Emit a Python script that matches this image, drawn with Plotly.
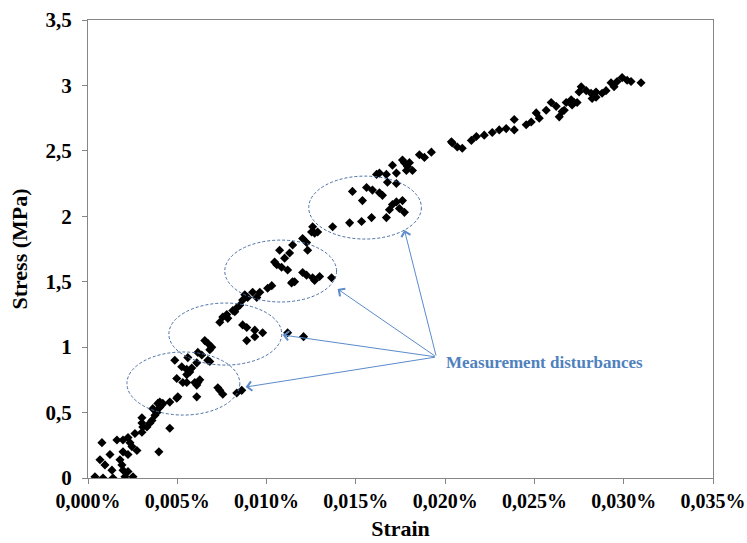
import plotly.graph_objects as go

strain_pct = [
    0.00039, 0.00084, 0.00140, 0.00207, 0.00252, 0.00067, 0.00123, 0.00078, 0.00095, 0.00134,
    0.00179, 0.00190, 0.00196, 0.00224, 0.00224, 0.00196, 0.00162, 0.00196, 0.00235, 0.00246,
    0.00274, 0.00224, 0.00263, 0.00302, 0.00307, 0.00302, 0.00330, 0.00347, 0.00358, 0.00375,
    0.00386, 0.00402, 0.00419, 0.00402, 0.00458, 0.00503, 0.00458, 0.00397, 0.00302, 0.00609,
    0.00609, 0.00553, 0.00727, 0.00755, 0.00833, 0.00861,
    0.00363, 0.00391, 0.00414, 0.00497, 0.00497, 0.00531, 0.00553, 0.00525, 0.00553, 0.00570,
    0.00581, 0.00486, 0.00559, 0.00609, 0.00598, 0.00615, 0.00626, 0.00615, 0.00637, 0.00671,
    0.00682, 0.00654, 0.00671, 0.00693, 0.00682, 0.00738, 0.00738, 0.00755, 0.00777, 0.00783,
    0.00822, 0.00833, 0.00850, 0.00878, 0.00894, 0.00922, 0.00945, 0.00962, 0.01006, 0.01029,
    0.01140, 0.01157, 0.00866, 0.00889, 0.00889, 0.00934, 0.00934, 0.00978, 0.01118, 0.01207,
    0.00811, 0.00866, 0.01073, 0.01045, 0.01057, 0.01084, 0.01101, 0.01129, 0.01118, 0.01146,
    0.01202, 0.01224, 0.01230, 0.01252, 0.01269, 0.01286, 0.01258, 0.01146, 0.01202, 0.01224,
    0.01258, 0.01269, 0.01297, 0.01364, 0.01370, 0.01465, 0.01532, 0.01588, 0.01537,
    0.01481, 0.01560, 0.01593, 0.01632, 0.01649, 0.01616, 0.01632, 0.01671, 0.01677, 0.01727,
    0.01727, 0.01705, 0.01772, 0.01800, 0.01783, 0.01856, 0.01884, 0.01923, 0.01671, 0.01688,
    0.01705, 0.01727, 0.01761, 0.01744, 0.01772, 0.02040, 0.02068, 0.02096,
    0.01761, 0.01789, 0.01817, 0.02035, 0.02147, 0.02175, 0.02219, 0.02264, 0.02303, 0.02342,
    0.02387, 0.02387, 0.02454, 0.02482, 0.02510, 0.02527, 0.02566, 0.02594, 0.02622, 0.02639,
    0.02655, 0.02678, 0.02711, 0.02739, 0.02762, 0.02790, 0.02817, 0.02845,
    0.02667, 0.02706, 0.02722, 0.02750, 0.02823, 0.02845, 0.02879, 0.02901, 0.02929, 0.02946,
    0.02963, 0.02991, 0.03019, 0.03041, 0.03097,
]

stress_mpa = [
    0.01, 0.00, 0.00, 0.01, 0.01, 0.14, 0.18, 0.27, 0.10, 0.06,
    0.14, 0.10, 0.06, 0.05, 0.18, 0.20, 0.29, 0.29, 0.27, 0.24,
    0.21, 0.31, 0.34, 0.35, 0.39, 0.42, 0.39, 0.42, 0.44, 0.48,
    0.50, 0.54, 0.57, 0.58, 0.58, 0.62, 0.38, 0.20, 0.46, 0.62,
    0.71, 0.73, 0.69, 0.64, 0.65, 0.67,
    0.53, 0.57, 0.56, 0.61, 0.76, 0.73, 0.79, 0.85, 0.83, 0.81,
    0.84, 0.90, 0.92, 0.88, 0.73, 0.73, 0.75, 0.96, 0.94, 0.90,
    0.89, 1.05, 1.03, 1.00, 0.98, 0.67, 1.19, 1.23, 1.25, 1.22,
    1.27, 1.30, 1.32, 1.40, 1.38, 1.42, 1.38, 1.42, 1.45, 1.47,
    1.49, 1.50, 1.17, 1.15, 1.05, 1.13, 1.08, 1.11, 1.11, 1.08,
    1.28, 1.36, 1.74, 1.65, 1.63, 1.61, 1.68, 1.72, 1.59, 1.78,
    1.83, 1.80, 1.74, 1.88, 1.87, 1.88, 1.92, 1.50, 1.57, 1.55,
    1.53, 1.51, 1.54, 1.53, 1.92, 1.95, 1.96, 1.99, 2.12,
    2.19, 2.22, 2.20, 2.18, 2.16, 2.32, 2.33, 2.32, 2.26, 2.33,
    2.25, 2.39, 2.41, 2.41, 2.35, 2.47, 2.45, 2.49, 1.99, 2.05,
    2.09, 2.11, 2.12, 2.06, 2.03, 2.56, 2.53, 2.52,
    2.43, 2.38, 2.35, 2.57, 2.58, 2.61, 2.62, 2.64, 2.66, 2.67,
    2.74, 2.66, 2.70, 2.72, 2.79, 2.75, 2.81, 2.87, 2.84, 2.76,
    2.80, 2.87, 2.85, 2.87, 2.99, 2.96, 2.94, 2.91,
    2.81, 2.89, 2.87, 2.95, 2.90, 2.95, 2.94, 2.96, 3.02, 2.99,
    3.03, 3.06, 3.04, 3.03, 3.02,
]

x_tick_vals = [0, 0.005, 0.010, 0.015, 0.020, 0.025, 0.030, 0.035]
x_tick_text = ["0,000%", "0,005%", "0,010%", "0,015%", "0,020%", "0,025%", "0,030%", "0,035%"]
y_tick_vals = [0, 0.5, 1, 1.5, 2, 2.5, 3, 3.5]
y_tick_text = ["0", "0,5", "1", "1,5", "2", "2,5", "3", "3,5"]

label_text = "Measurement disturbances"
blue = "#4F81BD"
arrow_blue = "#5B8BCB"
ellipse_blue = "#4A6FA5"
font_family = "Liberation Serif, Times New Roman, serif"

fig = go.Figure()
fig.add_trace(go.Scatter(
    x=strain_pct, y=stress_mpa, mode="markers",
    marker=dict(symbol="diamond", size=7, color="black"),
    showlegend=False, hoverinfo="skip",
))

# dashed ellipses highlighting the disturbances
ellipses = [
    (0.00218, 0.00850, 0.481, 0.963),
    (0.00453, 0.01085, 0.863, 1.337),
    (0.00766, 0.01392, 1.345, 1.818),
    (0.01236, 0.01867, 1.826, 2.307),
]
for x0, x1, y0, y1 in ellipses:
    fig.add_shape(type="circle", xref="x", yref="y", x0=x0, x1=x1, y0=y0, y1=y1,
                  line=dict(color=ellipse_blue, width=1, dash="3px,2px"), layer="above")

tail = (0.01951, 0.925)
heads = [(0.00883, 0.695), (0.01090, 1.093), (0.01398, 1.444), (0.01772, 1.895)]
for hx, hy in heads:
    fig.add_annotation(x=hx, y=hy, ax=tail[0], ay=tail[1], xref="x", yref="y",
                       axref="x", ayref="y", text="", showarrow=True,
                       arrowhead=4, arrowsize=1.8, arrowwidth=1, arrowcolor=arrow_blue)

fig.add_annotation(x=0.01996, y=0.886, xref="x", yref="y", text="<b>" + label_text + "</b>",
                   showarrow=False, xanchor="left", yanchor="middle",
                   font=dict(family=font_family, size=17, color=blue))

axis_common = dict(
    showgrid=False, zeroline=False, showline=True, linecolor="#868686", linewidth=1,
    mirror=True, ticks="outside", ticklen=5, tickcolor="#868686",
    ticklabeloverflow="allow",
)

fig.update_xaxes(range=[0, 0.035], tickvals=x_tick_vals,
                 ticktext=[f"<b>{t}</b>" for t in x_tick_text],
                 tickfont=dict(family=font_family, size=20, color="black"),
                 title=dict(text="<b>Strain</b>", font=dict(family=font_family, size=22, color="black"), standoff=9),
                 **axis_common)
fig.update_yaxes(range=[0, 3.5], tickvals=y_tick_vals,
                 ticktext=[f"<b>{t}</b>" for t in y_tick_text],
                 tickfont=dict(family=font_family, size=21, color="black"),
                 ticklabelstandoff=6,
                 title=dict(text="<b>Stress (MPa)</b>", font=dict(family=font_family, size=22, color="black"), standoff=11),
                 **axis_common)

fig.update_layout(
    width=747, height=543,
    margin=dict(l=88, r=34, t=20, b=65, autoexpand=False),
    plot_bgcolor="white", paper_bgcolor="white",
)

fig.write_html(
    "out.html",
    config={"displayModeBar": False},
    post_script="document.body.style.margin='0';document.body.style.overflow='hidden';",
)
